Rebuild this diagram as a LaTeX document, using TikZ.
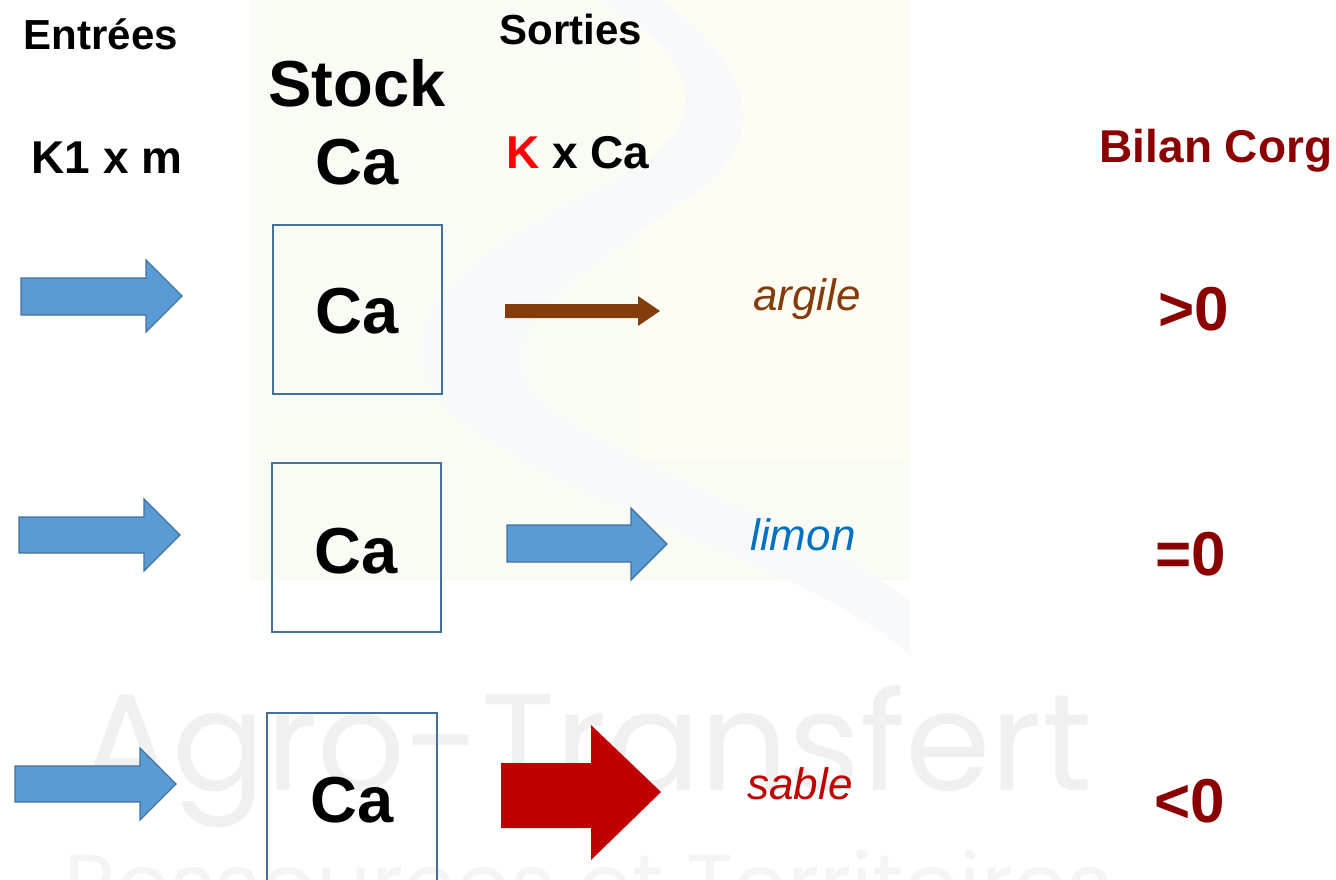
\documentclass[tikz,border=0pt]{standalone}
\usepackage{fontspec}
\setmainfont{Liberation Sans}
\newfontfamily\wmfont{Poppins}
\definecolor{arrowblue}{HTML}{5B9BD5}
\definecolor{edgeblue}{HTML}{41719C}
\definecolor{brownout}{HTML}{843C0C}
\definecolor{redout}{HTML}{C00000}
\definecolor{bilan}{HTML}{8A0000}
\definecolor{limonblue}{HTML}{0070C0}
\definecolor{bgtint}{HTML}{F9FBF5}
\definecolor{bgswoosh}{HTML}{F7F9FB}
\definecolor{bgyellow}{HTML}{FEFDF4}
\definecolor{wmgray}{HTML}{F0F0F0}
\definecolor{wmgraylight}{HTML}{F4F4F4}
\tikzset{
  inarrow/.style={fill=arrowblue,draw=edgeblue,line width=1.2pt,line join=miter},
  stockbox/.style={draw=edgeblue,line width=1.5pt},
  hdr/.style={font=\bfseries\fontsize{42}{46}\selectfont,inner sep=0pt,anchor=base},
  hdrbig/.style={font=\bfseries\fontsize{46}{50}\selectfont,inner sep=0pt,anchor=base},
  huge/.style={font=\bfseries\fontsize{65}{70}\selectfont,inner sep=0pt,anchor=base},
  soil/.style={font=\itshape\fontsize{44}{48}\selectfont,inner sep=0pt,anchor=base},
  bil/.style={font=\bfseries\fontsize{62}{66}\selectfont,inner sep=0pt,anchor=base,text=bilan},
  watermark/.style={inner sep=0pt,anchor=base west},
}
\begin{document}
\begin{tikzpicture}[x=1pt,y=-1pt]
\useasboundingbox (0,0) rectangle (1336,880);
\clip (0,0) rectangle (1336,880);
% faint background logo
\fill[bgtint] (250,0) rectangle (910,580);
\fill[bgyellow] (640,0) rectangle (910,460);
\fill[bgswoosh] (600,0) .. controls (700,60) and (720,120) .. (620,180)
  .. controls (470,250) and (360,330) .. (460,420)
  .. controls (600,520) and (800,560) .. (910,655) -- (910,600)
  .. controls (800,520) and (620,470) .. (540,400)
  .. controls (470,330) and (600,260) .. (700,190)
  .. controls (790,120) and (720,40) .. (660,0) -- cycle;
\node[watermark,text=wmgray] (wm1) at (80,790) {\resizebox{1012pt}{!}{\wmfont\fontsize{150}{150}\selectfont Agro-Transfert}};
\node[watermark,text=wmgraylight] (wm2) at (64,915) {\resizebox{1048pt}{!}{\wmfont\fontsize{128}{128}\selectfont Ressources et Territoires}};
% headers
\node[hdr] (entrees) at (101,50) {Entrées};
\node[hdr] (sorties) at (571,45) {Sorties};
\node[huge] (stock) at (357,107) {Stock};
\node[huge] (stockca) at (357,185) {Ca};
\node[hdrbig] (k1m) at (107,173) {K1 x m};
\node[hdrbig] (kca) at (578,168) {\textcolor{red}{K} x Ca};
\node[hdrbig,text=bilan] (bilan) at (1216,163) {Bilan Corg};
% stock boxes
\draw[stockbox] (273,225) rectangle (442,394);
\draw[stockbox] (272,463) rectangle (441,632);
\draw[stockbox] (267,713) rectangle (437,882);
\node[huge] (ca1) at (357,333) {Ca};
\node[huge] (ca2) at (356,573) {Ca};
\node[huge] (ca3) at (352,822) {Ca};
% input arrows
\draw[inarrow] (21,278) -- (146,278) -- (146,260) -- (182,296) -- (146,332) -- (146,315) -- (21,315) -- cycle;
\draw[inarrow] (19,517) -- (144,517) -- (144,499) -- (180,535) -- (144,571) -- (144,553) -- (19,553) -- cycle;
\draw[inarrow] (15,766) -- (140,766) -- (140,748) -- (176,784) -- (140,820) -- (140,802) -- (15,802) -- cycle;
% output arrows
\fill[brownout] (505,304) -- (638,304) -- (638,296) -- (660,311) -- (638,326) -- (638,318) -- (505,318) -- cycle;
\draw[inarrow] (507,525) -- (631,525) -- (631,508) -- (667,544) -- (631,580) -- (631,562) -- (507,562) -- cycle;
\fill[redout] (501,763) -- (591,763) -- (591,725) -- (661,792) -- (591,860) -- (591,828) -- (501,828) -- cycle;
% soil labels
\node[soil,text=brownout] (argile) at (807,310) {argile};
\node[soil,text=limonblue] (limon) at (803,550) {limon};
\node[soil,text=redout] (sable) at (800,799) {sable};
% balances
\node[bil] (b1) at (1194,330) {>0};
\node[bil] (b2) at (1191,575) {=0};
\node[bil] (b3) at (1190,822) {<0};
\end{tikzpicture}
\end{document}
